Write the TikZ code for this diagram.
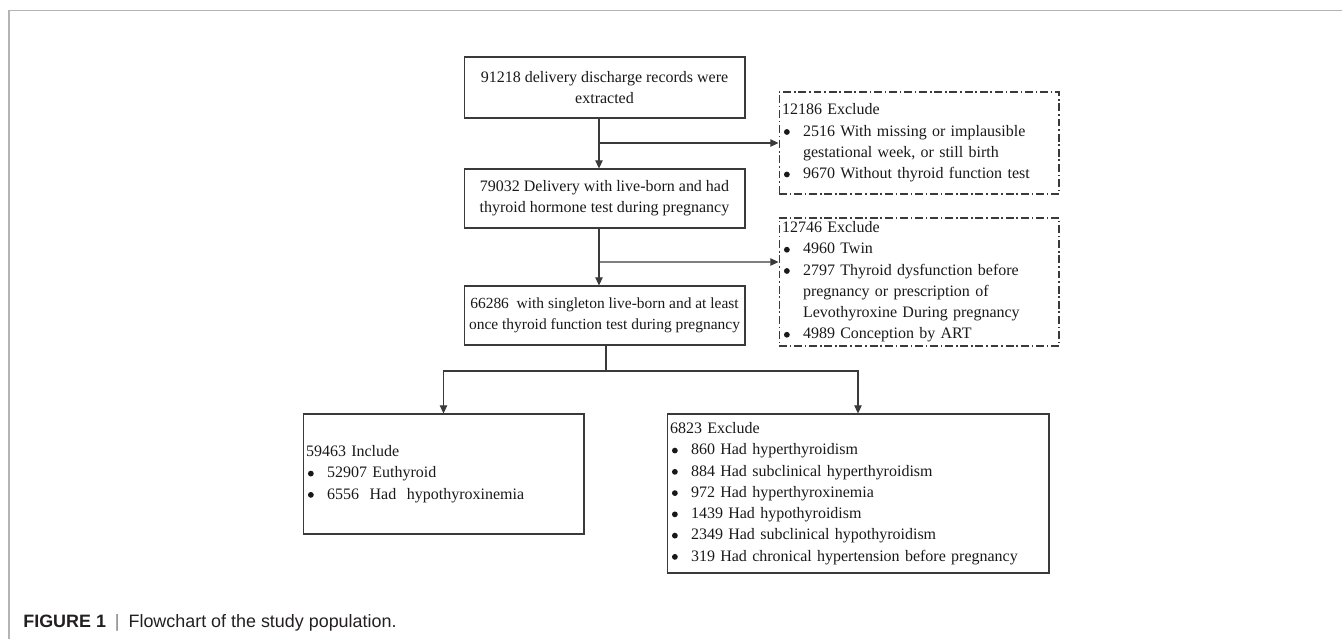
\documentclass[tikz,border=0pt]{standalone}
\usepackage{fontspec}
\setmainfont{Liberation Serif}
\newfontfamily\capfont{Liberation Sans}
\usetikzlibrary{arrows.meta}

\definecolor{linegray}{HTML}{3A3A3A}
\definecolor{framegray}{HTML}{B4B4B4}
\definecolor{captext}{HTML}{231F20}

% bullet and hanging indent for the lists
\newcommand{\dotmark}{\tikz[baseline=-2.4pt]\fill[black!90] (0,0) circle (1.65pt);}
\newcommand{\itm}{\makebox[0.42cm][l]{\hspace{1.1pt}\dotmark}}
\newcommand{\hng}{\hspace*{0.42cm}}

\tikzset{
  box/.style={draw=linegray, line width=0.6pt, rectangle, inner xsep=0.06cm, inner ysep=0pt,
    font=\fontsize{9.1}{12.1}\selectfont, text=black!90},
  dashbox/.style={box, dash pattern=on 4.5pt off 1.6pt on 0.9pt off 1.6pt},
  arr/.style={draw=linegray, line width=0.6pt, -{Triangle[length=4.6pt,width=4.2pt]}},
  conn/.style={draw=linegray, line width=0.6pt}
}

\begin{document}
\begin{tikzpicture}[x=0.02cm, y=-0.02cm]
\useasboundingbox (0,0) rectangle (1342,639);

% page frame
\draw[framegray, line width=0.8pt] (9,639) -- (9,10.5) -- (1342,10.5);

% main column
\node[box, minimum width=5.62cm, minimum height=1.22cm, align=center] (rec) at (604.5,87.5)
  {91218 delivery discharge records were\\ extracted};
\node[box, minimum width=5.62cm, minimum height=1.18cm, align=center] (live) at (604.5,198.5)
  {79032 Delivery with live-born and had\\ thyroid hormone test during pregnancy};
\node[box, minimum width=5.62cm, minimum height=1.18cm, align=center, inner xsep=0.02cm,
  font=\fontsize{8.8}{12.1}\selectfont] (single) at (604.5,315.5)
  {66286\ \ with singleton live-born and at least\\ once thyroid function test during pregnancy};

% exclusion boxes on the right
\node[dashbox, minimum width=5.6cm, minimum height=2.04cm, text width=5.48cm, align=left] (exA) at (919,143)
  {12186 Exclude\\
   \itm 2516 With missing or implausible\\
   \hng gestational week, or still birth\\
   \itm 9670 Without thyroid function test};
\node[dashbox, minimum width=5.6cm, minimum height=2.56cm, text width=5.48cm, align=left] (exB) at (919,282)
  {12746 Exclude\\
   \itm 4960 Twin\\
   \itm 2797 Thyroid dysfunction before\\
   \hng pregnancy or prescription of\\
   \hng Levothyroxine During pregnancy\\
   \itm 4989 Conception by ART};

% final split
\node[box, minimum width=5.62cm, minimum height=2.4cm, text width=5.5cm, align=left] (inc) at (443.5,474)
  {59463 Include\\
   \itm 52907 Euthyroid\\
   \itm 6556\ \ Had\ \ hypothyroxinemia};
\node[box, minimum width=7.64cm, minimum height=3.18cm, text width=7.52cm, align=left] (exc) at (858,493.5)
  {6823 Exclude\\
   \itm 860 Had hyperthyroidism\\
   \itm 884 Had subclinical hyperthyroidism\\
   \itm 972 Had hyperthyroxinemia\\
   \itm 1439 Had hypothyroidism\\
   \itm 2349 Had subclinical hypothyroidism\\
   \itm 319 Had chronical hypertension before pregnancy};

% connectors
\draw[arr] ([xshift=-0.11cm]rec.south) -- ([xshift=-0.11cm]live.north);
\draw[arr] ([xshift=-0.11cm]rec.south |- exA.west) -- (exA.west);
\draw[arr] ([xshift=-0.11cm]live.south) -- ([xshift=-0.11cm]single.north);
\draw[arr] ([xshift=-0.11cm]live.south |- 0,262) -- ([yshift=0.4cm]exB.west);
\coordinate (split) at (606,371);
\draw[conn] (split |- single.south) -- (split);
\draw[arr] (split) -| (inc.north);
\draw[arr] (split) -| (exc.north);

% caption
\node[anchor=base west, inner sep=0pt, font=\capfont\fontsize{10.2}{12}\selectfont, text=captext] (cap) at (23,627.5)
  {\textbf{FIGURE 1}\hspace{0.5em}{\color{gray}|}\hspace{0.5em}Flowchart of the study population.};
\end{tikzpicture}
\end{document}
